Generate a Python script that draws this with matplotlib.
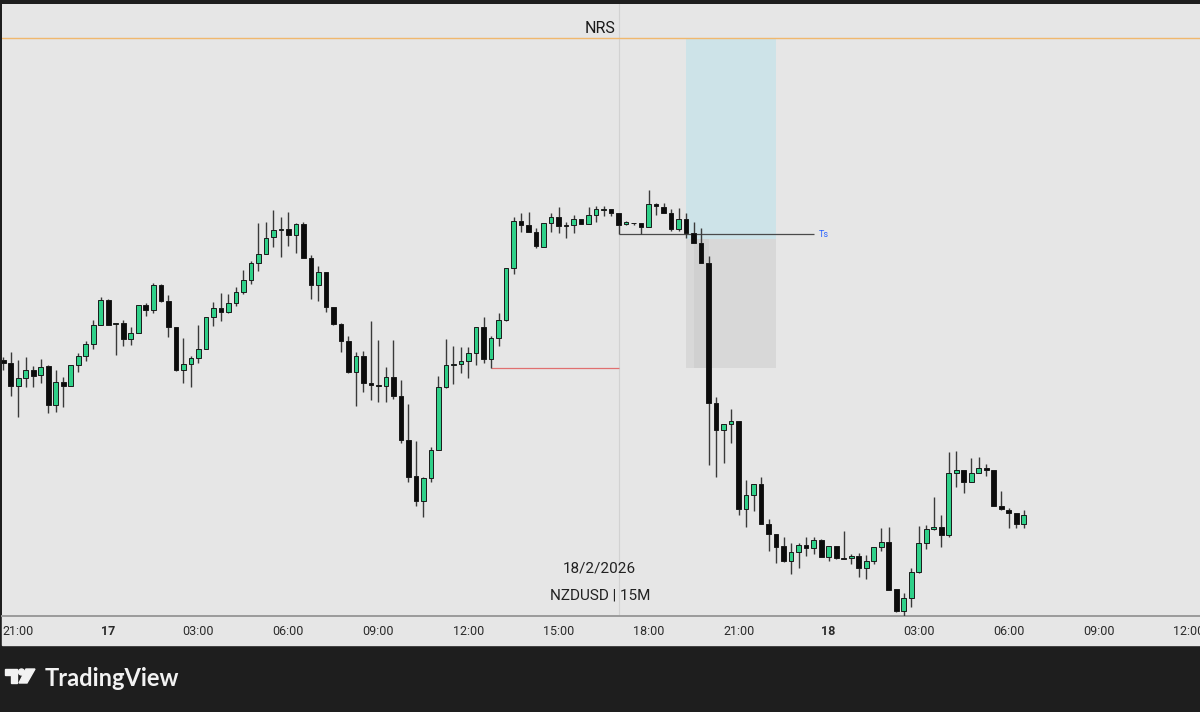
import numpy as np
import pandas as pd
import matplotlib
matplotlib.use('Agg')
import matplotlib.pyplot as plt
import matplotlib.dates as mdates
from matplotlib.patches import Rectangle, Polygon, Circle
from matplotlib.transforms import Affine2D

# NZDUSD 15M candles, first bar opens 16 Feb 2026 20:30
start = '2026-02-16 20:30'

opens = [0.60040, 0.60037, 0.60014, 0.60022, 0.60030, 0.60025, 0.60034, 0.59995, 0.60018, 0.60014,
         0.60035, 0.60044, 0.60056, 0.60075, 0.60100, 0.60076, 0.60077, 0.60061, 0.60067, 0.60095,
         0.60090, 0.60115, 0.60099, 0.60073, 0.60030, 0.60036, 0.60042, 0.60051, 0.60083, 0.60092,
         0.60088, 0.60097, 0.60108, 0.60120, 0.60137, 0.60146, 0.60163, 0.60170, 0.60171, 0.60165,
         0.60176, 0.60142, 0.60115, 0.60128, 0.60093, 0.60076, 0.60059, 0.60028, 0.60044, 0.60017,
         0.60015, 0.60014, 0.60023, 0.60004, 0.59960, 0.59924, 0.59899, 0.59922, 0.59950, 0.60013,
         0.60035, 0.60036, 0.60039, 0.60047, 0.60073, 0.60041, 0.60062, 0.60080, 0.60132, 0.60179,
         0.60175, 0.60168, 0.60153, 0.60177, 0.60183, 0.60175, 0.60175, 0.60181, 0.60176, 0.60185,
         0.60190, 0.60191, 0.60187, 0.60176, 0.60177, 0.60177, 0.60173, 0.60196, 0.60193, 0.60187,
         0.60171, 0.60181, 0.60167, 0.60157, 0.60137, 0.59997, 0.59970, 0.59976, 0.59979, 0.59891,
         0.59905, 0.59916, 0.59876, 0.59866, 0.59854, 0.59839, 0.59848, 0.59855, 0.59852, 0.59860,
         0.59843, 0.59854, 0.59842, 0.59842, 0.59844, 0.59832, 0.59839, 0.59853, 0.59858, 0.59811,
         0.59789, 0.59802, 0.59828, 0.59857, 0.59871, 0.59873, 0.59865, 0.59927, 0.59930, 0.59918,
         0.59927, 0.59932, 0.59930, 0.59894, 0.59890, 0.59887, 0.59876]

highs = [0.60043, 0.60048, 0.60040, 0.60043, 0.60034, 0.60041, 0.60035, 0.60030, 0.60023, 0.60035,
         0.60047, 0.60059, 0.60080, 0.60103, 0.60101, 0.60077, 0.60080, 0.60073, 0.60095, 0.60097,
         0.60117, 0.60116, 0.60105, 0.60073, 0.60062, 0.60044, 0.60075, 0.60083, 0.60098, 0.60107,
         0.60106, 0.60113, 0.60130, 0.60139, 0.60177, 0.60178, 0.60190, 0.60183, 0.60188, 0.60177,
         0.60178, 0.60145, 0.60134, 0.60128, 0.60093, 0.60077, 0.60064, 0.60048, 0.60049, 0.60079,
         0.60060, 0.60033, 0.60060, 0.60020, 0.59996, 0.59959, 0.59923, 0.59953, 0.60024, 0.60061,
         0.60054, 0.60053, 0.60053, 0.60073, 0.60083, 0.60064, 0.60087, 0.60132, 0.60183, 0.60187,
         0.60188, 0.60172, 0.60177, 0.60187, 0.60193, 0.60178, 0.60185, 0.60181, 0.60193, 0.60194,
         0.60194, 0.60191, 0.60187, 0.60179, 0.60177, 0.60177, 0.60210, 0.60197, 0.60197, 0.60191,
         0.60192, 0.60187, 0.60178, 0.60172, 0.60144, 0.60003, 0.59976, 0.59991, 0.59979, 0.59920,
         0.59916, 0.59923, 0.59881, 0.59866, 0.59863, 0.59857, 0.59857, 0.59863, 0.59863, 0.59861,
         0.59854, 0.59854, 0.59869, 0.59846, 0.59847, 0.59845, 0.59853, 0.59872, 0.59873, 0.59811,
         0.59807, 0.59832, 0.59874, 0.59875, 0.59903, 0.59885, 0.59948, 0.59949, 0.59930, 0.59942,
         0.59943, 0.59936, 0.59930, 0.59909, 0.59892, 0.59887, 0.59890]

lows = [0.60030, 0.60004, 0.59983, 0.60013, 0.60013, 0.60017, 0.59987, 0.59988, 0.59993, 0.60014,
        0.60028, 0.60039, 0.60051, 0.60075, 0.60075, 0.60045, 0.60054, 0.60055, 0.60067, 0.60084,
        0.60087, 0.60098, 0.60063, 0.60029, 0.60017, 0.60013, 0.60037, 0.60051, 0.60074, 0.60079,
        0.60087, 0.60094, 0.60106, 0.60116, 0.60129, 0.60146, 0.60153, 0.60143, 0.60154, 0.60147,
        0.60142, 0.60101, 0.60099, 0.60088, 0.60075, 0.60048, 0.60027, 0.59994, 0.60008, 0.60000,
        0.59998, 0.59998, 0.60001, 0.59957, 0.59918, 0.59894, 0.59883, 0.59918, 0.59950, 0.60012,
        0.60016, 0.60027, 0.60022, 0.60035, 0.60037, 0.60032, 0.60054, 0.60079, 0.60126, 0.60168,
        0.60168, 0.60152, 0.60153, 0.60168, 0.60167, 0.60162, 0.60167, 0.60176, 0.60176, 0.60178,
        0.60184, 0.60184, 0.60166, 0.60175, 0.60175, 0.60166, 0.60173, 0.60185, 0.60187, 0.60169,
        0.60169, 0.60162, 0.60157, 0.60137, 0.59935, 0.59923, 0.59937, 0.59957, 0.59885, 0.59873,
        0.59889, 0.59876, 0.59849, 0.59837, 0.59838, 0.59826, 0.59832, 0.59844, 0.59846, 0.59843,
        0.59839, 0.59841, 0.59841, 0.59836, 0.59823, 0.59821, 0.59836, 0.59849, 0.59810, 0.59788,
        0.59784, 0.59793, 0.59827, 0.59851, 0.59870, 0.59853, 0.59863, 0.59913, 0.59907, 0.59918,
        0.59927, 0.59924, 0.59894, 0.59890, 0.59872, 0.59872, 0.59872]

closes = [0.60037, 0.60014, 0.60022, 0.60030, 0.60024, 0.60033, 0.59995, 0.60018, 0.60014, 0.60035,
          0.60044, 0.60056, 0.60075, 0.60100, 0.60075, 0.60077, 0.60061, 0.60067, 0.60095, 0.60090,
          0.60115, 0.60099, 0.60073, 0.60030, 0.60036, 0.60042, 0.60051, 0.60083, 0.60092, 0.60088,
          0.60097, 0.60108, 0.60120, 0.60137, 0.60146, 0.60162, 0.60170, 0.60171, 0.60165, 0.60176,
          0.60142, 0.60115, 0.60128, 0.60093, 0.60076, 0.60059, 0.60028, 0.60044, 0.60017, 0.60015,
          0.60014, 0.60023, 0.60004, 0.59960, 0.59923, 0.59899, 0.59922, 0.59950, 0.60013, 0.60035,
          0.60036, 0.60039, 0.60047, 0.60073, 0.60041, 0.60062, 0.60080, 0.60132, 0.60179, 0.60175,
          0.60168, 0.60154, 0.60177, 0.60183, 0.60174, 0.60174, 0.60181, 0.60176, 0.60185, 0.60191,
          0.60191, 0.60187, 0.60175, 0.60178, 0.60177, 0.60173, 0.60196, 0.60194, 0.60187, 0.60171,
          0.60181, 0.60167, 0.60157, 0.60137, 0.59997, 0.59970, 0.59976, 0.59979, 0.59891, 0.59905,
          0.59916, 0.59876, 0.59866, 0.59853, 0.59839, 0.59848, 0.59855, 0.59852, 0.59860, 0.59843,
          0.59854, 0.59842, 0.59841, 0.59844, 0.59832, 0.59839, 0.59853, 0.59858, 0.59810, 0.59789,
          0.59802, 0.59828, 0.59857, 0.59871, 0.59873, 0.59865, 0.59927, 0.59930, 0.59918, 0.59927,
          0.59932, 0.59930, 0.59894, 0.59891, 0.59887, 0.59876, 0.59885]

# drawings on the chart
nrs_level = 0.60362
box_start, box_end = '2026-02-17 19:15', '2026-02-17 22:15'
box_top, box_mid, box_bottom = 0.60362, 0.60161, 0.60032
shade_start, shade_end = '2026-02-17 19:30', '2026-02-17 20:00'
ts_level = 0.60166
ts_start, ts_end = '2026-02-17 17:00', '2026-02-17 23:30'
red_level = 0.60032
red_start, red_end = '2026-02-17 12:45', '2026-02-17 17:00'
cursor_time = '2026-02-17 17:00'

tick_times = ['2026-02-16 21:00', '2026-02-17 00:00', '2026-02-17 03:00', '2026-02-17 06:00',
              '2026-02-17 09:00', '2026-02-17 12:00', '2026-02-17 15:00', '2026-02-17 18:00',
              '2026-02-17 21:00', '2026-02-18 00:00', '2026-02-18 03:00', '2026-02-18 06:00',
              '2026-02-18 09:00', '2026-02-18 12:00']
tick_labels = ['21:00', '17', '03:00', '06:00', '09:00', '12:00', '15:00', '18:00',
               '21:00', '18', '03:00', '06:00', '09:00', '12:00']

x_range = ('2026-02-16 20:27:24', '2026-02-18 12:22:24')
y_range = (0.59784, 0.60396)


def dn(t):
    return mdates.date2num(pd.Timestamp(t).to_pydatetime())


opens = np.array(opens); highs = np.array(highs)
lows = np.array(lows); closes = np.array(closes)
times = pd.date_range(start, periods=len(opens), freq='15min')
x = mdates.date2num(times.to_pydatetime())

green = '#2fd089'
black = '#0c0c0c'
W, H = 1200, 712

fig = plt.figure(figsize=(12, 7.12), dpi=100)
fig.patch.set_facecolor('#1e1e1e')

# pixel transform for frame decorations (y measured from top)
pix = Affine2D().scale(1 / W, -1 / H).translate(0, 1) + fig.transFigure

# time scale strip
fig.add_artist(Rectangle((2, 616), W - 2, 29, transform=pix, color='#e6e6e6', zorder=0))

ax = fig.add_axes([2 / W, (H - 616) / H, 1 - 2 / W, 612 / H])
ax.set_facecolor('#e6e6e6')

# position tool boxes
ax.add_patch(Rectangle((dn(box_start), box_mid), dn(box_end) - dn(box_start), box_top - box_mid,
                       color='#cde3e8', lw=0, zorder=1))
ax.add_patch(Rectangle((dn(box_start), box_bottom), dn(box_end) - dn(box_start), box_mid - box_bottom,
                       color='#d8d8d8', lw=0, zorder=1))
ax.add_patch(Rectangle((dn(shade_start), box_bottom), dn(shade_end) - dn(shade_start), box_mid - box_bottom,
                       color='#d0d0d0', lw=0, zorder=1))

ax.axvline(dn(cursor_time), color='#d2d2d2', lw=0.8, zorder=0.5)
ax.axhline(nrs_level, color='#f0b86e', lw=1, zorder=2)
ax.hlines(ts_level, dn(ts_start), dn(ts_end), color='#4a4a4a', lw=0.9, zorder=2)
ax.hlines(red_level, dn(red_start), dn(red_end), color='#e07070', lw=0.9, zorder=2)

# candles
up = closes > opens
body_lo = np.minimum(opens, closes)
body_h = np.abs(closes - opens)
ax.vlines(x, lows, highs, color='#3a3a3a', lw=1, zorder=3)
ax.bar(x, body_h, width=0.63 / 96, bottom=body_lo, color=np.where(up, green, black),
       edgecolor='#1a1a1a', linewidth=0.7, zorder=4)

ax.annotate('NRS', xy=(0.499, nrs_level), xycoords=ax.get_yaxis_transform(),
            xytext=(0, 1.5), textcoords='offset points', ha='center', va='bottom',
            fontsize=11.5, color='#1a1a1a', family='Roboto')
ax.annotate('Ts', xy=(dn(ts_end), ts_level), xytext=(4, 0), textcoords='offset points',
            ha='left', va='center', fontsize=6.5, color='#2962ff', family='Roboto')

ax.text(0.499, 0.078, '18/2/2026', transform=ax.transAxes, ha='center', va='center',
        fontsize=11, color='#222222', family='Roboto')
ax.text(0.499, 0.034, 'NZDUSD | 15M', transform=ax.transAxes, ha='center', va='center',
        fontsize=11, color='#222222', family='Roboto')

ax.set_xlim(dn(x_range[0]), dn(x_range[1]))
ax.set_ylim(*y_range)
ax.set_yticks([])
ax.set_xticks([dn(t) for t in tick_times])
ax.set_xticklabels(tick_labels, fontsize=9, color='#2a2a2a', family='Roboto')
for lab in ax.get_xticklabels():
    if len(lab.get_text()) == 2:
        lab.set_fontweight('bold')
ax.tick_params(axis='x', length=0, pad=6.5)
for s in ['top', 'left', 'right']:
    ax.spines[s].set_visible(False)
ax.spines['bottom'].set_color('#9a9a9a')
ax.spines['bottom'].set_linewidth(1.4)

# TradingView logo
fig.add_artist(Polygon([(5, 669), (17, 669), (17, 683), (11, 683), (11, 675), (5, 675)],
                       closed=True, transform=pix, color='#f2f2f2'))
fig.add_artist(Circle((21.5, 672), 3, transform=pix, color='#f2f2f2'))
fig.add_artist(Polygon([(26, 669), (35, 669), (27, 683), (19, 683)],
                       closed=True, transform=pix, color='#f2f2f2'))
fig.text(45 / W, 1 - 678 / H, 'TradingView', color='#f2f2f2', fontsize=17,
         fontweight='bold', va='center', ha='left', family='Lato')

fig.savefig('out.png', dpi=100, facecolor=fig.get_facecolor())
